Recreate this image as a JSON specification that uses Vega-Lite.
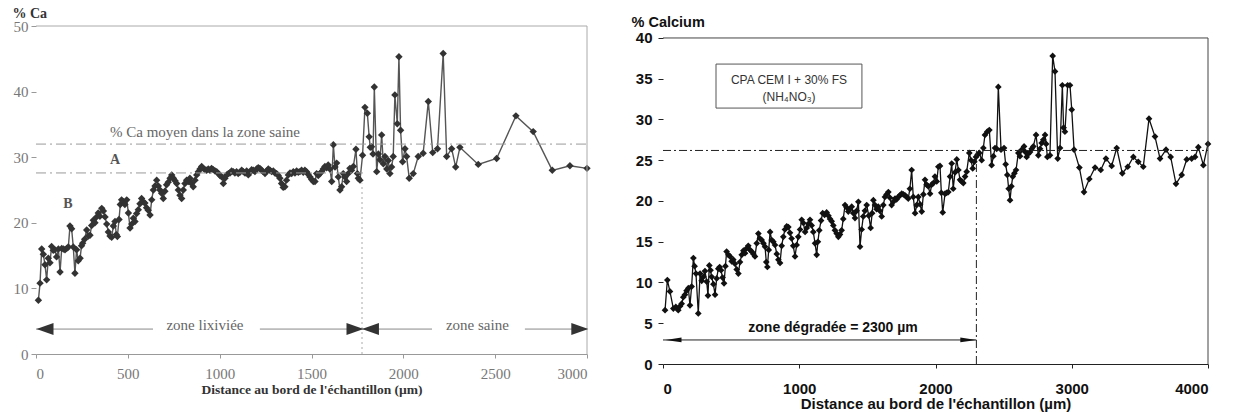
{
  "$schema": "https://vega.github.io/schema/vega-lite/v6.json",
  "padding": {"left": 12, "top": 6, "right": 5, "bottom": 2},
  "background": "white",
  "spacing": 76,
  "bounds": "flush",
  "config": {"view": {"stroke": null}, "axis": {"grid": false}},
  "datasets": {
    "ca": [
      {"d":13,"v":8.2},{"d":22,"v":10.8},{"d":31,"v":16.0},{"d":40,"v":15.2},{"d":49,"v":13.6},{"d":58,"v":11.3},{"d":67,"v":14.6},{"d":76,"v":13.9},{"d":85,"v":16.4},{"d":94,"v":15.8},{"d":103,"v":15.9},{"d":112,"v":14.8},{"d":122,"v":16.0},{"d":131,"v":12.5},{"d":140,"v":16.1},{"d":149,"v":16.0},{"d":158,"v":15.9},{"d":167,"v":16.1},{"d":176,"v":16.3},{"d":185,"v":19.5},{"d":194,"v":19.1},{"d":203,"v":16.3},{"d":212,"v":12.3},{"d":221,"v":15.9},{"d":230,"v":14.2},{"d":240,"v":14.6},{"d":248,"v":16.5},{"d":254,"v":16.9},{"d":265,"v":17.5},{"d":276,"v":18.9},{"d":285,"v":18.0},{"d":294,"v":18.1},{"d":303,"v":19.6},{"d":312,"v":20.4},{"d":321,"v":20.0},{"d":330,"v":20.9},{"d":339,"v":21.5},{"d":348,"v":21.0},{"d":358,"v":22.2},{"d":367,"v":21.8},{"d":376,"v":20.9},{"d":385,"v":19.8},{"d":394,"v":18.6},{"d":403,"v":18.0},{"d":412,"v":17.8},{"d":421,"v":19.5},{"d":430,"v":20.2},{"d":437,"v":18.2},{"d":443,"v":17.9},{"d":452,"v":20.5},{"d":459,"v":22.8},{"d":466,"v":23.5},{"d":475,"v":23.2},{"d":484,"v":22.8},{"d":494,"v":23.5},{"d":503,"v":21.5},{"d":512,"v":19.2},{"d":521,"v":19.8},{"d":530,"v":20.7},{"d":539,"v":20.2},{"d":548,"v":21.4},{"d":557,"v":22.0},{"d":566,"v":22.9},{"d":575,"v":23.7},{"d":584,"v":23.2},{"d":593,"v":23.0},{"d":602,"v":22.3},{"d":611,"v":21.9},{"d":621,"v":21.2},{"d":630,"v":23.5},{"d":639,"v":25.0},{"d":648,"v":25.6},{"d":657,"v":26.5},{"d":666,"v":25.6},{"d":675,"v":25.0},{"d":684,"v":24.5},{"d":693,"v":23.7},{"d":702,"v":24.8},{"d":711,"v":25.8},{"d":720,"v":26.2},{"d":730,"v":26.8},{"d":739,"v":27.3},{"d":748,"v":26.8},{"d":757,"v":26.4},{"d":766,"v":26.0},{"d":775,"v":25.0},{"d":784,"v":24.2},{"d":793,"v":23.7},{"d":802,"v":25.0},{"d":811,"v":26.0},{"d":820,"v":26.5},{"d":829,"v":26.3},{"d":838,"v":26.8},{"d":847,"v":26.0},{"d":856,"v":25.5},{"d":866,"v":26.5},{"d":875,"v":27.3},{"d":884,"v":27.8},{"d":893,"v":28.2},{"d":902,"v":28.6},{"d":911,"v":28.3},{"d":920,"v":28.1},{"d":929,"v":28.0},{"d":938,"v":28.2},{"d":947,"v":28.0},{"d":956,"v":28.3},{"d":965,"v":28.1},{"d":975,"v":27.9},{"d":984,"v":27.8},{"d":993,"v":27.5},{"d":1002,"v":27.2},{"d":1011,"v":27.0},{"d":1020,"v":26.0},{"d":1029,"v":26.8},{"d":1038,"v":27.3},{"d":1047,"v":27.5},{"d":1056,"v":27.6},{"d":1065,"v":27.9},{"d":1074,"v":27.8},{"d":1083,"v":27.6},{"d":1092,"v":27.8},{"d":1101,"v":27.5},{"d":1110,"v":27.7},{"d":1120,"v":28.0},{"d":1129,"v":27.8},{"d":1138,"v":27.6},{"d":1147,"v":27.9},{"d":1156,"v":27.3},{"d":1165,"v":27.7},{"d":1174,"v":28.1},{"d":1183,"v":28.0},{"d":1192,"v":27.8},{"d":1201,"v":28.2},{"d":1210,"v":28.4},{"d":1219,"v":28.3},{"d":1228,"v":28.0},{"d":1237,"v":27.8},{"d":1247,"v":27.5},{"d":1256,"v":27.9},{"d":1265,"v":28.2},{"d":1274,"v":28.0},{"d":1283,"v":27.8},{"d":1292,"v":27.9},{"d":1301,"v":27.6},{"d":1310,"v":27.5},{"d":1319,"v":27.2},{"d":1328,"v":26.8},{"d":1337,"v":26.0},{"d":1346,"v":25.4},{"d":1355,"v":25.5},{"d":1364,"v":26.5},{"d":1374,"v":27.3},{"d":1383,"v":27.6},{"d":1392,"v":27.5},{"d":1401,"v":27.8},{"d":1410,"v":27.6},{"d":1419,"v":27.9},{"d":1428,"v":27.7},{"d":1437,"v":27.8},{"d":1446,"v":28.0},{"d":1455,"v":27.7},{"d":1464,"v":28.0},{"d":1473,"v":27.8},{"d":1482,"v":27.4},{"d":1492,"v":27.0},{"d":1501,"v":26.6},{"d":1510,"v":26.3},{"d":1519,"v":26.3},{"d":1528,"v":27.5},{"d":1537,"v":27.2},{"d":1546,"v":27.5},{"d":1555,"v":27.8},{"d":1564,"v":28.2},{"d":1573,"v":28.6},{"d":1582,"v":28.4},{"d":1591,"v":28.8},{"d":1600,"v":28.2},{"d":1610,"v":26.3},{"d":1619,"v":31.9},{"d":1628,"v":28.5},{"d":1637,"v":29.1},{"d":1646,"v":27.0},{"d":1655,"v":25.0},{"d":1664,"v":25.5},{"d":1673,"v":27.5},{"d":1682,"v":27.0},{"d":1691,"v":26.3},{"d":1700,"v":27.5},{"d":1709,"v":28.3},{"d":1718,"v":28.0},{"d":1728,"v":28.6},{"d":1742,"v":31.2},{"d":1750,"v":27.5},{"d":1755,"v":26.8},{"d":1764,"v":26.5},{"d":1778,"v":30.3},{"d":1791,"v":37.6},{"d":1804,"v":36.7},{"d":1814,"v":33.1},{"d":1820,"v":31.5},{"d":1827,"v":31.6},{"d":1835,"v":30.5},{"d":1842,"v":40.7},{"d":1855,"v":27.8},{"d":1864,"v":30.5},{"d":1873,"v":29.6},{"d":1882,"v":33.4},{"d":1891,"v":29.0},{"d":1900,"v":30.1},{"d":1910,"v":28.2},{"d":1918,"v":29.5},{"d":1927,"v":27.5},{"d":1936,"v":28.5},{"d":1945,"v":30.1},{"d":1954,"v":39.5},{"d":1967,"v":35.1},{"d":1976,"v":45.3},{"d":1985,"v":34.1},{"d":1996,"v":29.3},{"d":2009,"v":31.3},{"d":2018,"v":30.1},{"d":2032,"v":26.8},{"d":2054,"v":27.5},{"d":2081,"v":30.1},{"d":2108,"v":30.6},{"d":2136,"v":38.5},{"d":2160,"v":30.7},{"d":2186,"v":31.3},{"d":2217,"v":45.8},{"d":2236,"v":30.1},{"d":2263,"v":31.3},{"d":2285,"v":28.5},{"d":2308,"v":31.5},{"d":2408,"v":28.9},{"d":2508,"v":29.8},{"d":2613,"v":36.3},{"d":2707,"v":33.9},{"d":2811,"v":28.0},{"d":2907,"v":28.7},{"d":3000,"v":28.3}
    ],
    "calcium": [
      {"d":15,"v":6.6},{"d":32,"v":10.3},{"d":51,"v":8.9},{"d":76,"v":6.8},{"d":94,"v":7.0},{"d":112,"v":6.6},{"d":125,"v":7.1},{"d":137,"v":7.4},{"d":149,"v":8.2},{"d":161,"v":8.5},{"d":173,"v":9.0},{"d":186,"v":9.3},{"d":198,"v":7.2},{"d":210,"v":9.5},{"d":223,"v":13.0},{"d":232,"v":12.0},{"d":242,"v":11.1},{"d":259,"v":6.2},{"d":272,"v":11.1},{"d":284,"v":10.2},{"d":296,"v":10.7},{"d":308,"v":11.4},{"d":321,"v":10.1},{"d":330,"v":8.4},{"d":340,"v":12.1},{"d":349,"v":11.5},{"d":357,"v":10.7},{"d":370,"v":9.8},{"d":382,"v":8.5},{"d":394,"v":10.5},{"d":406,"v":11.7},{"d":416,"v":11.9},{"d":426,"v":11.5},{"d":437,"v":10.6},{"d":448,"v":9.9},{"d":458,"v":12.0},{"d":467,"v":13.8},{"d":480,"v":13.4},{"d":492,"v":13.2},{"d":504,"v":12.6},{"d":516,"v":12.8},{"d":528,"v":12.3},{"d":541,"v":11.6},{"d":553,"v":11.1},{"d":565,"v":12.5},{"d":578,"v":13.4},{"d":590,"v":13.9},{"d":602,"v":13.6},{"d":614,"v":14.2},{"d":626,"v":14.5},{"d":639,"v":14.0},{"d":651,"v":13.8},{"d":663,"v":13.5},{"d":675,"v":13.2},{"d":688,"v":14.8},{"d":700,"v":16.0},{"d":712,"v":15.4},{"d":724,"v":15.2},{"d":737,"v":14.8},{"d":749,"v":14.4},{"d":758,"v":12.5},{"d":766,"v":11.9},{"d":776,"v":14.0},{"d":786,"v":16.2},{"d":798,"v":15.2},{"d":810,"v":15.0},{"d":822,"v":14.6},{"d":835,"v":13.5},{"d":847,"v":12.8},{"d":859,"v":12.4},{"d":871,"v":14.5},{"d":883,"v":15.6},{"d":895,"v":16.5},{"d":908,"v":16.9},{"d":920,"v":16.8},{"d":932,"v":16.1},{"d":944,"v":15.4},{"d":956,"v":14.5},{"d":969,"v":13.2},{"d":981,"v":14.6},{"d":993,"v":15.6},{"d":1006,"v":16.5},{"d":1018,"v":17.7},{"d":1030,"v":17.3},{"d":1043,"v":16.2},{"d":1055,"v":16.7},{"d":1067,"v":17.2},{"d":1079,"v":17.7},{"d":1091,"v":17.0},{"d":1103,"v":16.2},{"d":1116,"v":14.8},{"d":1128,"v":13.4},{"d":1137,"v":15.0},{"d":1147,"v":16.4},{"d":1160,"v":17.6},{"d":1172,"v":18.5},{"d":1186,"v":18.3},{"d":1201,"v":18.6},{"d":1214,"v":18.2},{"d":1226,"v":17.8},{"d":1238,"v":17.5},{"d":1250,"v":17.0},{"d":1262,"v":16.4},{"d":1275,"v":16.0},{"d":1287,"v":15.6},{"d":1299,"v":15.9},{"d":1311,"v":16.4},{"d":1323,"v":17.8},{"d":1336,"v":19.5},{"d":1348,"v":19.2},{"d":1360,"v":18.7},{"d":1372,"v":19.0},{"d":1385,"v":19.3},{"d":1397,"v":18.5},{"d":1409,"v":17.9},{"d":1421,"v":18.8},{"d":1434,"v":19.9},{"d":1446,"v":14.4},{"d":1458,"v":16.5},{"d":1470,"v":18.1},{"d":1482,"v":18.8},{"d":1495,"v":19.5},{"d":1510,"v":18.2},{"d":1524,"v":16.7},{"d":1535,"v":18.5},{"d":1544,"v":20.1},{"d":1556,"v":19.5},{"d":1568,"v":19.0},{"d":1580,"v":19.3},{"d":1592,"v":18.8},{"d":1605,"v":18.1},{"d":1617,"v":19.5},{"d":1629,"v":20.5},{"d":1641,"v":20.8},{"d":1654,"v":21.1},{"d":1666,"v":20.4},{"d":1678,"v":19.5},{"d":1690,"v":19.9},{"d":1703,"v":20.3},{"d":1715,"v":20.2},{"d":1727,"v":20.5},{"d":1739,"v":20.7},{"d":1752,"v":20.9},{"d":1764,"v":20.8},{"d":1776,"v":20.7},{"d":1788,"v":20.5},{"d":1800,"v":20.3},{"d":1812,"v":21.5},{"d":1825,"v":23.8},{"d":1837,"v":20.5},{"d":1850,"v":18.5},{"d":1862,"v":19.5},{"d":1874,"v":20.5},{"d":1887,"v":19.6},{"d":1899,"v":18.7},{"d":1911,"v":20.8},{"d":1923,"v":22.6},{"d":1935,"v":22.0},{"d":1947,"v":21.8},{"d":1960,"v":20.9},{"d":1972,"v":22.0},{"d":1984,"v":22.2},{"d":1996,"v":23.0},{"d":2009,"v":22.4},{"d":2021,"v":24.2},{"d":2033,"v":24.3},{"d":2043,"v":21.0},{"d":2053,"v":18.6},{"d":2070,"v":20.9},{"d":2082,"v":21.0},{"d":2094,"v":21.1},{"d":2107,"v":23.0},{"d":2119,"v":24.6},{"d":2130,"v":21.5},{"d":2143,"v":23.5},{"d":2156,"v":25.1},{"d":2168,"v":23.8},{"d":2180,"v":22.6},{"d":2192,"v":22.4},{"d":2204,"v":22.2},{"d":2217,"v":23.0},{"d":2229,"v":23.6},{"d":2248,"v":25.9},{"d":2261,"v":25.0},{"d":2273,"v":24.0},{"d":2285,"v":24.8},{"d":2297,"v":25.4},{"d":2310,"v":25.7},{"d":2322,"v":25.9},{"d":2339,"v":25.0},{"d":2351,"v":26.5},{"d":2363,"v":28.1},{"d":2380,"v":28.5},{"d":2395,"v":28.7},{"d":2412,"v":24.4},{"d":2425,"v":25.5},{"d":2437,"v":26.5},{"d":2449,"v":26.4},{"d":2461,"v":34.0},{"d":2481,"v":26.3},{"d":2503,"v":26.5},{"d":2515,"v":24.5},{"d":2527,"v":23.2},{"d":2537,"v":21.5},{"d":2547,"v":20.1},{"d":2557,"v":21.8},{"d":2567,"v":23.0},{"d":2579,"v":23.4},{"d":2591,"v":23.8},{"d":2608,"v":25.9},{"d":2620,"v":25.5},{"d":2633,"v":26.3},{"d":2650,"v":26.7},{"d":2660,"v":26.0},{"d":2669,"v":25.4},{"d":2681,"v":25.8},{"d":2694,"v":26.0},{"d":2706,"v":26.4},{"d":2718,"v":26.7},{"d":2738,"v":28.1},{"d":2755,"v":25.6},{"d":2767,"v":26.4},{"d":2779,"v":27.1},{"d":2791,"v":27.5},{"d":2804,"v":28.1},{"d":2812,"v":27.0},{"d":2821,"v":25.4},{"d":2840,"v":25.6},{"d":2860,"v":37.8},{"d":2877,"v":35.9},{"d":2897,"v":25.2},{"d":2914,"v":26.5},{"d":2931,"v":34.2},{"d":2940,"v":29.0},{"d":2950,"v":28.5},{"d":2970,"v":34.2},{"d":2987,"v":34.2},{"d":3000,"v":31.2},{"d":3017,"v":26.3},{"d":3056,"v":24.1},{"d":3090,"v":21.1},{"d":3129,"v":22.7},{"d":3171,"v":24.1},{"d":3213,"v":23.8},{"d":3251,"v":25.2},{"d":3293,"v":24.3},{"d":3330,"v":26.5},{"d":3371,"v":23.4},{"d":3411,"v":24.2},{"d":3452,"v":25.4},{"d":3488,"v":24.8},{"d":3525,"v":24.2},{"d":3567,"v":30.1},{"d":3611,"v":27.9},{"d":3648,"v":25.2},{"d":3692,"v":26.3},{"d":3726,"v":25.4},{"d":3765,"v":22.1},{"d":3807,"v":23.2},{"d":3844,"v":25.1},{"d":3880,"v":25.2},{"d":3905,"v":25.4},{"d":3929,"v":26.6},{"d":3966,"v":24.4},{"d":4000,"v":27.0}
    ]
  },
  "hconcat": [
    {
      "width": 551,
      "height": 328,
      "layer": [
        {
          "data": {"name": "ca"},
          "mark": {"type": "line", "color": "#555", "strokeWidth": 1.4, "point": {"shape": "diamond", "filled": true, "size": 55, "color": "#333", "opacity": 1}},
          "encoding": {
            "x": {"field": "d", "type": "quantitative", "scale": {"domain": [0, 3000], "nice": false},
              "axis": {"values": [0, 500, 1000, 1500, 2000, 2500, 3000], "format": "d", "title": "Distance au bord de l'échantillon (µm)", "domainColor": "#999", "tickColor": "#999", "tickSize": 4, "labelFont": "Liberation Serif", "labelFontSize": 15, "labelColor": "#777", "labelPadding": 8, "titleFont": "Liberation Serif", "titleFontSize": 13.5, "titleFontWeight": "bold", "titleColor": "#333", "titlePadding": 1}},
            "y": {"field": "v", "type": "quantitative", "scale": {"domain": [0, 50], "nice": false},
              "axis": {"values": [0, 10, 20, 30, 40, 50], "format": "d", "title": "% Ca", "titleAngle": 0, "titleAlign": "left", "titleBaseline": "middle", "titleX": -24, "titleY": -13, "titleFont": "Liberation Serif", "titleFontSize": 14, "titleFontWeight": "bold", "titleColor": "#333", "domain": false, "tickColor": "#999", "tickSize": 5, "labelFont": "Liberation Serif", "labelFontSize": 15, "labelColor": "#777", "labelPadding": 3}}
          }
        },
        {
          "data": {"values": [{"d": 0, "d2": 3000, "v": 50}, {"d": 0, "d2": 3000, "v": 32.0}, {"d": 0, "d2": 1780, "v": 27.6}, {"d": 0, "d2": 637, "v": 3.8}, {"d": 1219, "d2": 1775, "v": 3.8}, {"d": 1775, "d2": 2156, "v": 3.8}, {"d": 2662, "d2": 3000, "v": 3.8}], "name": "lh"},
          "transform": [{"filter": "datum.v == 50"}],
          "mark": {"type": "rule", "color": "#aaa", "strokeWidth": 1},
          "encoding": {"x": {"field": "d", "type": "quantitative"}, "x2": {"field": "d2"}, "y": {"field": "v", "type": "quantitative"}}
        },
        {
          "data": {"name": "lh"},
          "transform": [{"filter": "datum.v > 20 && datum.v < 40"}],
          "mark": {"type": "rule", "color": "#999", "strokeWidth": 1, "strokeDash": [10, 4, 2, 4]},
          "encoding": {"x": {"field": "d", "type": "quantitative"}, "x2": {"field": "d2"}, "y": {"field": "v", "type": "quantitative"}}
        },
        {
          "data": {"name": "lh"},
          "transform": [{"filter": "datum.v < 10"}],
          "mark": {"type": "rule", "color": "#888", "strokeWidth": 1},
          "encoding": {"x": {"field": "d", "type": "quantitative"}, "x2": {"field": "d2"}, "y": {"field": "v", "type": "quantitative"}}
        },
        {
          "data": {"values": [{"d": 3000, "v": 0, "v2": 50}]},
          "mark": {"type": "rule", "color": "#aaa", "strokeWidth": 1},
          "encoding": {"x": {"field": "d", "type": "quantitative"}, "y": {"field": "v", "type": "quantitative"}, "y2": {"field": "v2"}}
        },
        {
          "data": {"values": [{"d": 1775, "v": 0, "v2": 26}]},
          "mark": {"type": "rule", "color": "#aaa", "strokeWidth": 1, "strokeDash": [2, 3]},
          "encoding": {"x": {"field": "d", "type": "quantitative"}, "y": {"field": "v", "type": "quantitative"}, "y2": {"field": "v2"}}
        },
        {
          "data": {"values": [{"d": 49, "v": 3.8}, {"d": 1821, "v": 3.8}]},
          "mark": {"type": "point", "shape": "M1,-0.7L-1,0L1,0.7Z", "filled": true, "size": 289, "color": "#333", "opacity": 1},
          "encoding": {"x": {"field": "d", "type": "quantitative"}, "y": {"field": "v", "type": "quantitative"}}
        },
        {
          "data": {"values": [{"d": 1737, "v": 3.8}, {"d": 2961, "v": 3.8}]},
          "mark": {"type": "point", "shape": "M-1,-0.7L1,0L-1,0.7Z", "filled": true, "size": 289, "color": "#333", "opacity": 1},
          "encoding": {"x": {"field": "d", "type": "quantitative"}, "y": {"field": "v", "type": "quantitative"}}
        },
        {
          "data": {"values": [{"d": 920, "v": 4.4, "t": "zone lixiviée"}, {"d": 2403, "v": 4.4, "t": "zone saine"}]},
          "mark": {"type": "text", "font": "Liberation Serif", "fontSize": 15, "color": "#666", "align": "center", "baseline": "middle"},
          "encoding": {"x": {"field": "d", "type": "quantitative"}, "y": {"field": "v", "type": "quantitative"}, "text": {"field": "t"}}
        },
        {
          "data": {"values": [{"d": 403, "v": 33.8, "t": "% Ca moyen dans la  zone saine"}]},
          "mark": {"type": "text", "font": "Liberation Serif", "fontSize": 15, "color": "#666", "align": "left", "baseline": "middle"},
          "encoding": {"x": {"field": "d", "type": "quantitative"}, "y": {"field": "v", "type": "quantitative"}, "text": {"field": "t"}}
        },
        {
          "data": {"values": [{"d": 430, "v": 29.6, "t": "A"}, {"d": 174, "v": 22.9, "t": "B"}]},
          "mark": {"type": "text", "font": "Liberation Serif", "fontSize": 14, "fontWeight": "bold", "color": "#555", "align": "center", "baseline": "middle"},
          "encoding": {"x": {"field": "d", "type": "quantitative"}, "y": {"field": "v", "type": "quantitative"}, "text": {"field": "t"}}
        }
      ]
    },
    {
      "width": 545,
      "height": 338,
      "layer": [
        {
          "data": {"name": "calcium"},
          "mark": {"type": "line", "color": "#111", "strokeWidth": 1.3, "point": {"shape": "diamond", "filled": true, "size": 45, "color": "#111", "opacity": 1}},
          "encoding": {
            "x": {"field": "d", "type": "quantitative", "scale": {"domain": [0, 4000], "nice": false},
              "axis": {"values": [0, 1000, 2000, 3000, 4000], "format": "d", "title": "Distance au bord de l'échantillon (µm)", "domainColor": "#222", "tickColor": "#222", "tickSize": 4, "labelFont": "Liberation Sans", "labelFontSize": 15, "labelFontWeight": "bold", "labelColor": "#111", "labelPadding": 13, "titleFont": "Liberation Sans", "titleFontSize": 15, "titleFontWeight": "bold", "titleColor": "#111", "titlePadding": 0}},
            "y": {"field": "v", "type": "quantitative", "scale": {"domain": [0, 41.47], "nice": false},
              "axis": {"values": [0, 5, 10, 15, 20, 25, 30, 35, 40], "format": "d", "title": "% Calcium", "titleAngle": 0, "titleAlign": "left", "titleBaseline": "middle", "titleX": -32, "titleY": -4, "titleFont": "Liberation Sans", "titleFontSize": 14.5, "titleFontWeight": "bold", "titleColor": "#111", "domain": false, "tickColor": "#222", "tickSize": 5, "labelFont": "Liberation Sans", "labelFontSize": 15, "labelFontWeight": "bold", "labelColor": "#111", "labelPadding": 6}}
          }
        },
        {
          "data": {"values": [{"d": 0, "d2": 4000, "v": 40}]},
          "mark": {"type": "rule", "color": "#444", "strokeWidth": 1},
          "encoding": {"x": {"field": "d", "type": "quantitative"}, "x2": {"field": "d2"}, "y": {"field": "v", "type": "quantitative"}}
        },
        {
          "data": {"values": [{"d": 4000, "v": 0, "v2": 40}]},
          "mark": {"type": "rule", "color": "#444", "strokeWidth": 1},
          "encoding": {"x": {"field": "d", "type": "quantitative"}, "y": {"field": "v", "type": "quantitative"}, "y2": {"field": "v2"}}
        },
        {
          "data": {"values": [{"d": 0, "d2": 4000, "v": 26.2}]},
          "mark": {"type": "rule", "color": "#222", "strokeWidth": 1, "strokeDash": [8, 3, 2, 3]},
          "encoding": {"x": {"field": "d", "type": "quantitative"}, "x2": {"field": "d2"}, "y": {"field": "v", "type": "quantitative"}}
        },
        {
          "data": {"values": [{"d": 2300, "v": 0, "v2": 26.2}]},
          "mark": {"type": "rule", "color": "#222", "strokeWidth": 1, "strokeDash": [8, 3, 2, 3]},
          "encoding": {"x": {"field": "d", "type": "quantitative"}, "y": {"field": "v", "type": "quantitative"}, "y2": {"field": "v2"}}
        },
        {
          "data": {"values": [{"d": 0, "d2": 2300, "v": 2.95}]},
          "mark": {"type": "rule", "color": "#222", "strokeWidth": 1},
          "encoding": {"x": {"field": "d", "type": "quantitative"}, "x2": {"field": "d2"}, "y": {"field": "v", "type": "quantitative"}}
        },
        {
          "data": {"values": [{"d": 77, "v": 2.95}]},
          "mark": {"type": "point", "shape": "M1,-0.3L-1,0L1,0.3Z", "filled": true, "size": 256, "color": "#111", "opacity": 1},
          "encoding": {"x": {"field": "d", "type": "quantitative"}, "y": {"field": "v", "type": "quantitative"}}
        },
        {
          "data": {"values": [{"d": 2241, "v": 2.95}]},
          "mark": {"type": "point", "shape": "M-1,-0.3L1,0L-1,0.3Z", "filled": true, "size": 256, "color": "#111", "opacity": 1},
          "encoding": {"x": {"field": "d", "type": "quantitative"}, "y": {"field": "v", "type": "quantitative"}}
        },
        {
          "data": {"values": [{"d": 1248, "v": 4.4, "t": "zone dégradée = 2300 µm"}]},
          "mark": {"type": "text", "font": "Liberation Sans", "fontSize": 14, "fontWeight": "bold", "color": "#111", "align": "center", "baseline": "middle"},
          "encoding": {"x": {"field": "d", "type": "quantitative"}, "y": {"field": "v", "type": "quantitative"}, "text": {"field": "t"}}
        },
        {
          "data": {"values": [{"d": 389, "d2": 1460, "v": 31.4, "v2": 36.8}]},
          "mark": {"type": "rect", "fill": "white", "stroke": "#555", "strokeWidth": 1},
          "encoding": {"x": {"field": "d", "type": "quantitative"}, "x2": {"field": "d2"}, "y": {"field": "v", "type": "quantitative"}, "y2": {"field": "v2"}}
        },
        {
          "data": {"values": [{"d": 925, "v": 34.85, "t": "CPA CEM I + 30% FS"}, {"d": 925, "v": 32.76, "t": "(NH₄NO₃)"}]},
          "mark": {"type": "text", "font": "Liberation Sans", "fontSize": 12, "color": "#333", "align": "center", "baseline": "middle"},
          "encoding": {"x": {"field": "d", "type": "quantitative"}, "y": {"field": "v", "type": "quantitative"}, "text": {"field": "t"}}
        }
      ]
    }
  ]
}
